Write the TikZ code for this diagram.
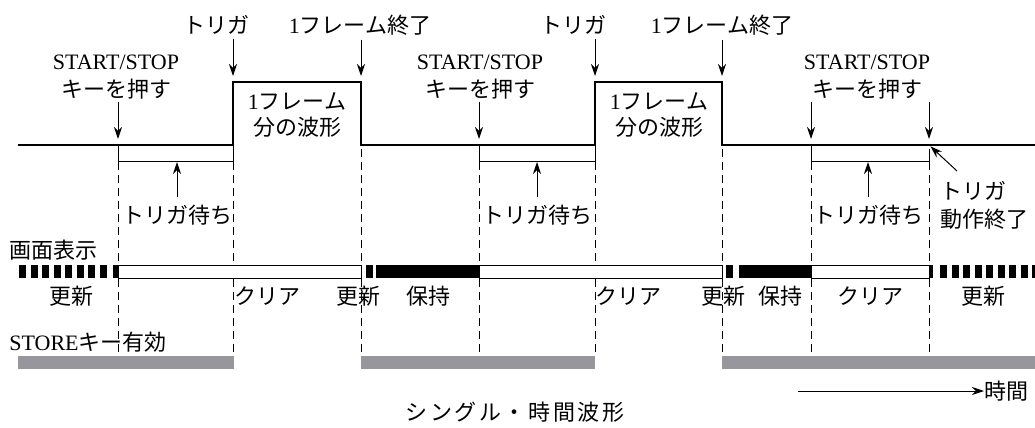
\documentclass[tikz,border=0pt]{standalone}
\usepackage{fontspec}
\setmainfont{Liberation Serif}
\newfontfamily\jp{Noto Sans CJK JP}
\newfontfamily\jpwide{Noto Sans CJK JP}[LetterSpace=12]
\usetikzlibrary{arrows.meta,positioning}
\definecolor{storegray}{RGB}{150,150,156}

\begin{document}
\begin{tikzpicture}[
 x=0.5pt,y=-0.5pt,
 every node/.style={inner sep=0pt,font=\fontsize{11}{14}\selectfont},
 lbl/.style={align=center},
 arr/.style={-{Stealth[length=6pt,width=4pt]},line width=0.5pt},
 sig/.style={line width=1pt},
 bracket/.style={line width=0.5pt},
 guide/.style={dash pattern=on 4pt off 2.5pt,line width=0.5pt},
 clearbar/.style={draw,line width=0.5pt,fill=white},
 storebar/.style={fill=storegray}
]
\useasboundingbox (0,0) rectangle (1035,428);
% time marks on the main line
\foreach \n/\x in {1/118,2/233,3/361,4/479,5/595,6/722,7/811,8/929}
  \coordinate (t\n) at (\x,145);

% guides
\foreach \n in {1,...,8}
  \draw[guide] (t\n) ++(0,4) -- ++(0,207);

% main signal
\draw[sig] (18,145) -- (t2) -- (233,82) coordinate (p1) -- (361,82) coordinate (p2)
  -- (t3) -- (t5) -- (595,82) coordinate (p3) -- (722,82) coordinate (p4)
  -- (t6) -- (1035,145);
\draw[bracket] (t1) -- ++(0,16) coordinate (b1) -| (t2);
\draw[bracket] (t4) -- ++(0,16) coordinate (b2) -| (t5);
\draw[bracket] (t7) -- ++(0,16) coordinate (b3) -| ([yshift=-2pt]t8);

% top labels
\node[lbl] (trig1) at (216,25) {\jp トリガ};
\node[lbl] (trig2) at (573,25) {\jp トリガ};
\node[lbl] (fend1) at (360,25) {1{\jp フレーム終了}};
\node[lbl] (fend2) at (722,25) {1{\jp フレーム終了}};
\node[lbl] (ss1) at (116,77) {START/STOP\\{\jp キーを押す}};
\node[lbl] (ss2) at (480,77) {START/STOP\\{\jp キーを押す}};
\node[lbl] (ss3) at (867,77) {START/STOP\\{\jp キーを押す}};
\node[lbl,font=\fontsize{11}{13}\selectfont] (frame1) at (297,115) {1{\jp フレーム}\\{\jp 分の波形}};
\node[lbl,font=\fontsize{11}{13}\selectfont] (frame2) at (659,115) {1{\jp フレーム}\\{\jp 分の波形}};

\draw[arr,shorten <=2pt,shorten >=3pt] (trig1.south -| p1) -- (p1);
\draw[arr,shorten <=2pt,shorten >=3pt] (trig2.south -| p3) -- (p3);
\draw[arr,shorten <=2pt,shorten >=3pt] (fend1.south -| p2) -- (p2);
\draw[arr,shorten <=2pt,shorten >=3pt] (fend2.south -| p4) -- (p4);
\draw[arr,shorten <=1pt,shorten >=3pt] (ss1.south -| t1) -- (t1);
\draw[arr,shorten <=1pt,shorten >=3pt] (ss2.south -| t4) -- (t4);
\draw[arr,shorten <=1pt,shorten >=3pt] (ss3.south -| t7) -- (t7);
\draw[arr,shorten <=1pt,shorten >=3pt] (ss3.south -| t8) -- (t8);

% waiting labels
\node[lbl] (wait1) at (177,215) {\jp トリガ待ち};
\node[lbl] (wait2) at (537,215) {\jp トリガ待ち};
\node[lbl] (wait3) at (868,215) {\jp トリガ待ち};
\draw[arr,shorten <=4pt,shorten >=0.5pt] (wait1.north) -- (wait1.north |- b1);
\draw[arr,shorten <=4pt,shorten >=0.5pt] (wait2.north) -- (wait2.north |- b2);
\draw[arr,shorten <=4pt,shorten >=0.5pt] (wait3.north) -- (wait3.north |- b3);
\node[lbl,align=left,anchor=west] (tend) at (940,205) {\jp トリガ\\\jp 動作終了};
\coordinate (tendtail) at (957,171);
\draw[arr,shorten >=1pt] (tendtail) -- (t8);

% screen display
\node[anchor=west] (disp) at (9,250) {\jp 画面表示};
\foreach \k in {0,...,7}
  \fill (19+11.5*\k,265) rectangle ++(7,13);
\fill (113,265) rectangle (118,278);
\draw[clearbar] (118,265) rectangle (361,278);
\fill (366,265) rectangle (373,278);
\fill (376,265) rectangle (479,278);
\draw[clearbar] (479,265) rectangle (722,278);
\fill (726,265) rectangle (733,278);
\fill (739,265) rectangle (811,278);
\draw[clearbar] (811,265) rectangle (929,278);
\fill (929,265) rectangle (933,278);
\foreach \k in {0,...,8}
  \fill (940+11.5*\k,265) rectangle ++(7,13);

\node (upd1) at (71,296) {\jp 更新};
\node[anchor=west] (clr1) at (234,296) {\jp クリア};
\node (upd2) at (358,296) {\jp 更新};
\node (hold1) at (428,296) {\jp 保持};
\node[anchor=west] (clr2) at (595,296) {\jp クリア};
\node (upd3) at (723,296) {\jp 更新};
\node (hold2) at (780,296) {\jp 保持};
\node (clr3) at (870,296) {\jp クリア};
\node (upd4) at (983,296) {\jp 更新};

% store key
\node[anchor=west] (store) at (9,342) {STORE{\jp キー有効}};
\fill[storebar] (18,356) rectangle (234,369);
\fill[storebar] (361,356) rectangle (595,369);
\fill[storebar] (722,356) rectangle (1035,369);

% bottom
\node (title) at (515,412) {\jpwide シングル・時間波形};
\node[anchor=west] (time) at (984,391) {\jp 時間};
\coordinate (timetail) at (798,391);
\draw[arr] (timetail) -- (time.west);
\end{tikzpicture}
\end{document}
